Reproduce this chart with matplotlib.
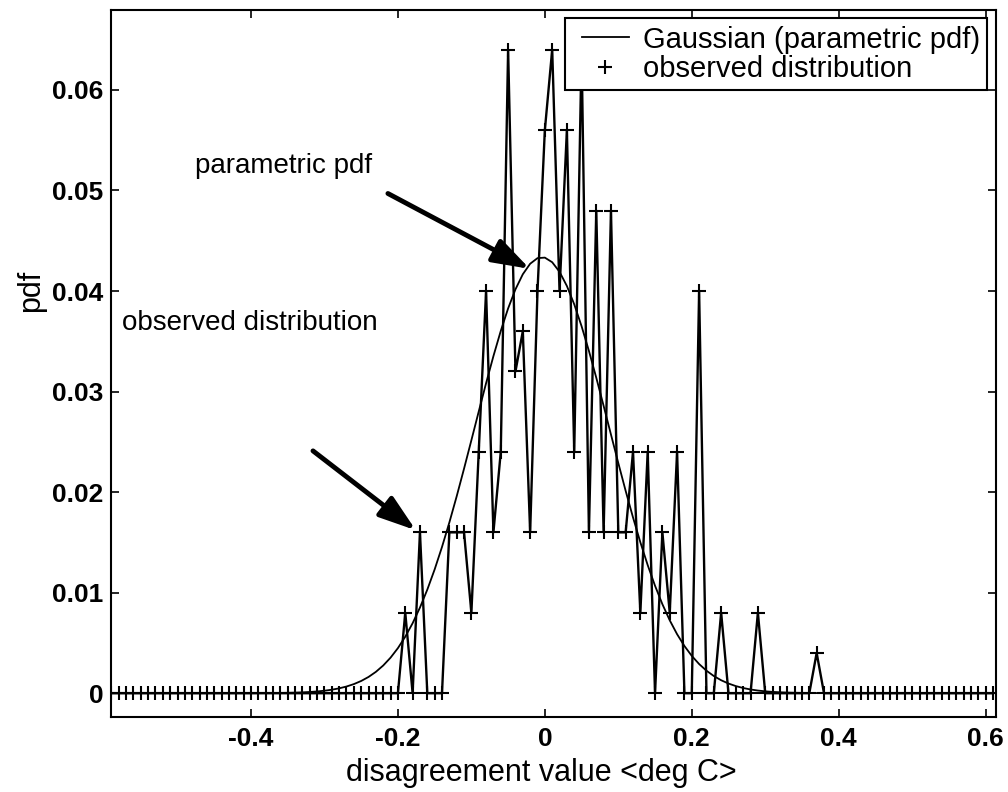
import numpy as np
import matplotlib
matplotlib.use('Agg')
import matplotlib.pyplot as plt
from matplotlib.lines import Line2D
from matplotlib.legend_handler import HandlerLine2D

plt.rcParams['font.family'] = ['Liberation Sans', 'DejaVu Sans']
plt.rcParams['axes.unicode_minus'] = False

# bins every 0.01 from -0.59 to 0.61
bin_first, bin_step, n_bins = -0.59, 0.01, 121

# observed pdf for each bin
obs_pdf = [
    0, 0, 0, 0, 0, 0, 0, 0, 0, 0,
    0, 0, 0, 0, 0, 0, 0, 0, 0, 0,
    0, 0, 0, 0, 0, 0, 0, 0, 0, 0,
    0, 0, 0, 0, 0, 0, 0, 0, 0, 0,
    0.008, 0, 0.016, 0, 0, 0, 0.016, 0.016, 0.016, 0.008,
    0.024, 0.040, 0.016, 0.024, 0.064, 0.032, 0.036, 0.016, 0.040, 0.056,
    0.064, 0.040, 0.056, 0.024, 0.064, 0.016, 0.048, 0.016, 0.048, 0.016,
    0.016, 0.024, 0.008, 0.024, 0, 0.016, 0.008, 0.024, 0, 0,
    0.040, 0, 0, 0.008, 0, 0, 0, 0, 0.008, 0,
    0, 0, 0, 0, 0, 0, 0.004, 0, 0, 0,
    0, 0, 0, 0, 0, 0, 0, 0, 0, 0,
    0, 0, 0, 0, 0, 0, 0, 0, 0, 0,
    0,
]

# gaussian fit parameters (estimated from the curve)
gauss_mu = -0.004
gauss_sigma = 0.092

xticks = [-0.4, -0.2, 0, 0.2, 0.4, 0.6]
xtick_labels = ['-0.4', '-0.2', '0', '0.2', '0.4', '0.6']
yticks = [0, 0.01, 0.02, 0.03, 0.04, 0.05, 0.06]
ytick_labels = ['0', '0.01', '0.02', '0.03', '0.04', '0.05', '0.06']

x = bin_first + bin_step * np.arange(n_bins)
gauss_pdf = bin_step / (gauss_sigma * np.sqrt(2 * np.pi)) * np.exp(-(x - gauss_mu) ** 2 / (2 * gauss_sigma ** 2))

fig = plt.figure(figsize=(10.08, 7.92), dpi=100)
ax = fig.add_axes([0.1098, 0.0943, 0.988 - 0.1098, 0.988 - 0.0943])

ax.plot(x, gauss_pdf, color='k', lw=1.3)
ax.plot(x, obs_pdf, color='k', lw=1.7, marker='+', ms=10, mew=1.5)

ax.set_xlim(-0.591, 0.614)
ax.set_ylim(-0.0024, 0.068)
ax.set_xticks(xticks)
ax.set_xticklabels(xtick_labels)
ax.set_yticks(yticks)
ax.set_yticklabels(ytick_labels)
ax.tick_params(direction='in', top=True, right=True, length=6, width=1.2, labelsize=19)
ax.tick_params(axis='x', pad=7)
ax.tick_params(axis='y', pad=5)
for lab in ax.get_xticklabels() + ax.get_yticklabels():
    lab.set_fontweight('bold')
for sp in ax.spines.values():
    sp.set_linewidth(1.5)

ax.set_xlabel('disagreement value <deg C>', fontsize=22)
ax.xaxis.set_label_coords(0.486, -0.058)
ax.set_ylabel('pdf', fontsize=22)
ax.yaxis.set_label_coords(-0.073, 0.602)

# annotations with arrows
ax.text(-0.476, 0.0524, 'parametric pdf', fontsize=20, ha='left', va='center')
ax.annotate('', xy=(-0.0204, 0.0422), xytext=(-0.2136, 0.0497),
            arrowprops=dict(arrowstyle='-|>,head_length=0.9,head_width=0.3',
                            lw=3.5, color='k', mutation_scale=25, shrinkA=0, shrinkB=0))
ax.text(-0.5755, 0.0368, 'observed distribution', fontsize=20, ha='left', va='center')
ax.annotate('', xy=(-0.1755, 0.0162), xytext=(-0.3156, 0.0241),
            arrowprops=dict(arrowstyle='-|>,head_length=0.9,head_width=0.3',
                            lw=3.5, color='k', mutation_scale=25, shrinkA=0, shrinkB=0))

handles = [Line2D([], [], color='k', lw=1.3),
           Line2D([], [], color='k', ls='none', marker='+', ms=10, mew=1.5)]
leg = ax.legend(handles, ['Gaussian (parametric pdf)', 'observed distribution'],
                loc='upper right', fontsize=21, fancybox=False, framealpha=1,
                edgecolor='k', borderpad=0.25, labelspacing=0.05, handlelength=1.95,
                handletextpad=0.48, borderaxespad=0.3,
                handler_map={Line2D: HandlerLine2D(xpad=0.35)})
leg.get_frame().set_linewidth(1.5)

fig.savefig('out.png', dpi=100)
